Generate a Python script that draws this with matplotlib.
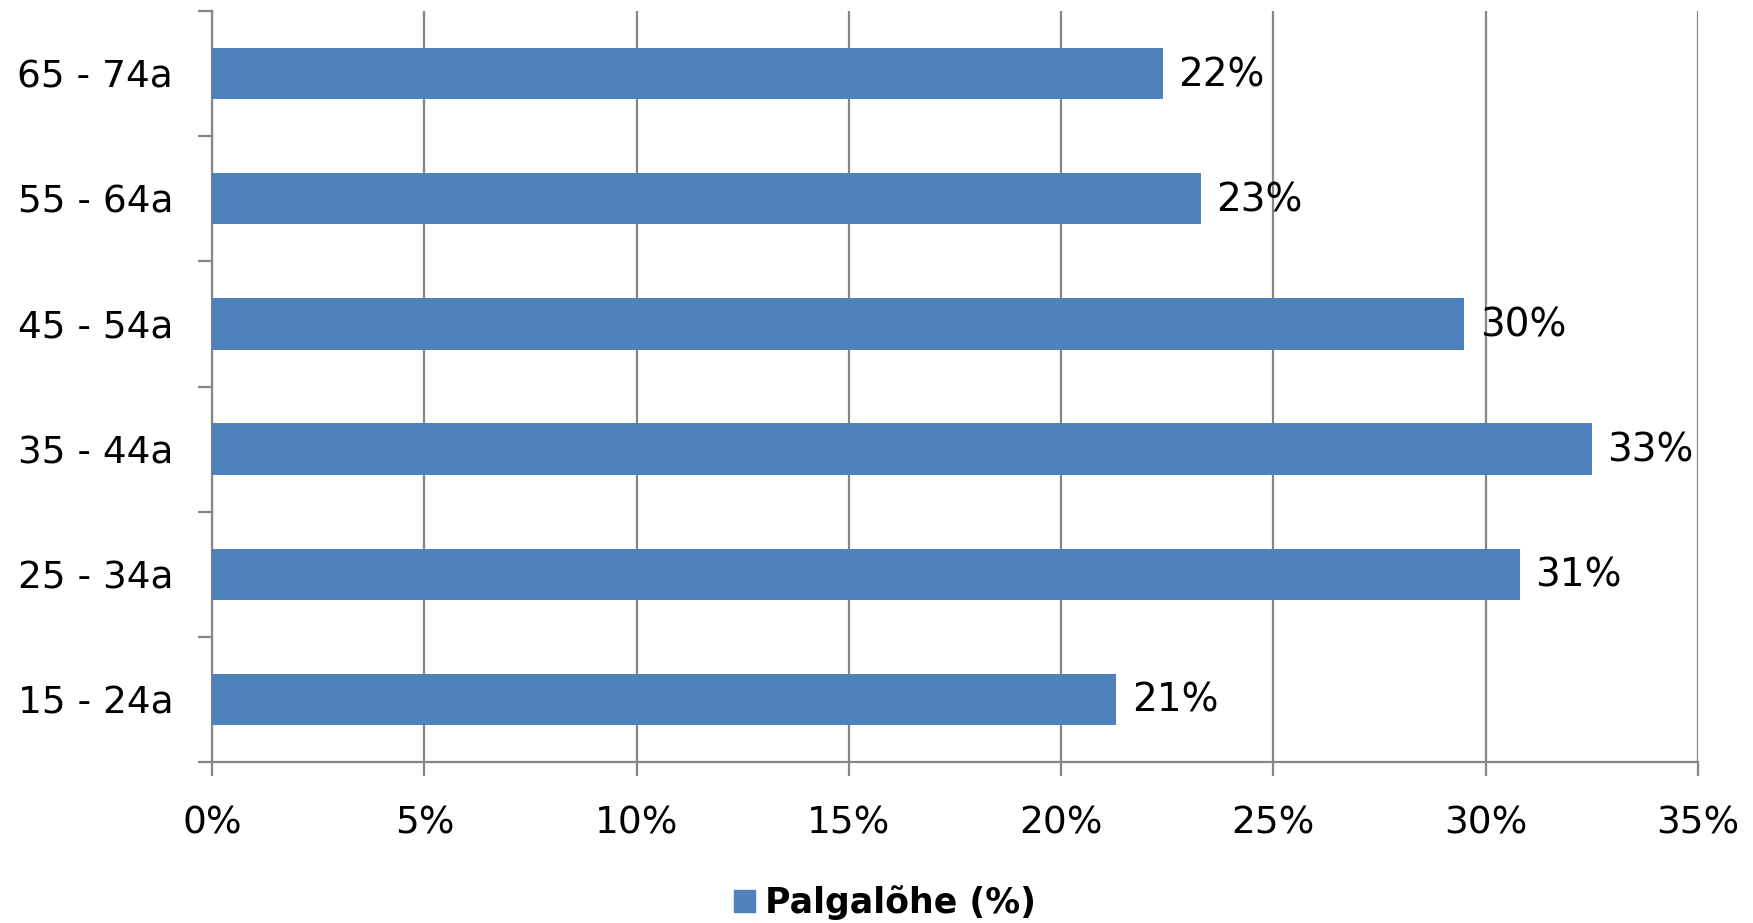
import numpy as np
import matplotlib.pyplot as plt
from matplotlib.patches import Patch

categories = ['15 - 24a', '25 - 34a', '35 - 44a', '45 - 54a', '55 - 64a', '65 - 74a']
values = [21.3, 30.8, 32.5, 29.5, 23.3, 22.4]
labels = ['21%', '31%', '33%', '30%', '23%', '22%']
series_name = 'Palgalõhe (%)'

bar_color = '#4F81BD'
grid_color = '#868686'

plt.rcParams['font.family'] = ['DejaVu Sans']

fig = plt.figure(figsize=(17.53, 9.23), dpi=100)
ax = fig.add_axes([0.121, 0.1744, 0.8476, 0.8136])

ind = np.arange(len(categories))
ax.barh(ind, values, height=0.41, color=bar_color, zorder=3)

for i, (v, lab) in enumerate(zip(values, labels)):
    ax.annotate(lab, (v, i), xytext=(11, -1), textcoords='offset points',
                va='center', ha='left', fontsize=28, zorder=4)

ax.set_xlim(0, 35)
ax.set_ylim(-0.5, len(categories) - 0.5)
ax.set_xticks(np.arange(0, 36, 5))
ax.set_xticklabels(['%d%%' % t for t in range(0, 36, 5)], fontsize=27)
ax.xaxis.grid(True, color=grid_color, linewidth=1.6, zorder=0)

# category labels centered, tick marks between categories
ax.set_yticks(np.arange(-0.5, len(categories), 1.0))
ax.set_yticklabels([])
ax.set_yticks(ind, minor=True)
ax.set_yticklabels(categories, minor=True, fontsize=27)
ax.tick_params(axis='y', which='minor', length=0, pad=28)
ax.tick_params(axis='y', which='major', length=10, width=1.6, color=grid_color)
ax.tick_params(axis='x', length=10, width=1.6, color=grid_color, pad=21)

for s in ['top', 'right']:
    ax.spines[s].set_visible(False)
for s in ['left', 'bottom']:
    ax.spines[s].set_color(grid_color)
    ax.spines[s].set_linewidth(1.6)

leg = fig.legend(handles=[Patch(color=bar_color, label=series_name)],
                 loc='center', bbox_to_anchor=(0.505, 0.022), frameon=False,
                 prop={'size': 25, 'weight': 'bold'}, handlelength=0.6,
                 handleheight=0.6, handletextpad=0.3)

fig.savefig('out.png', dpi=100)
